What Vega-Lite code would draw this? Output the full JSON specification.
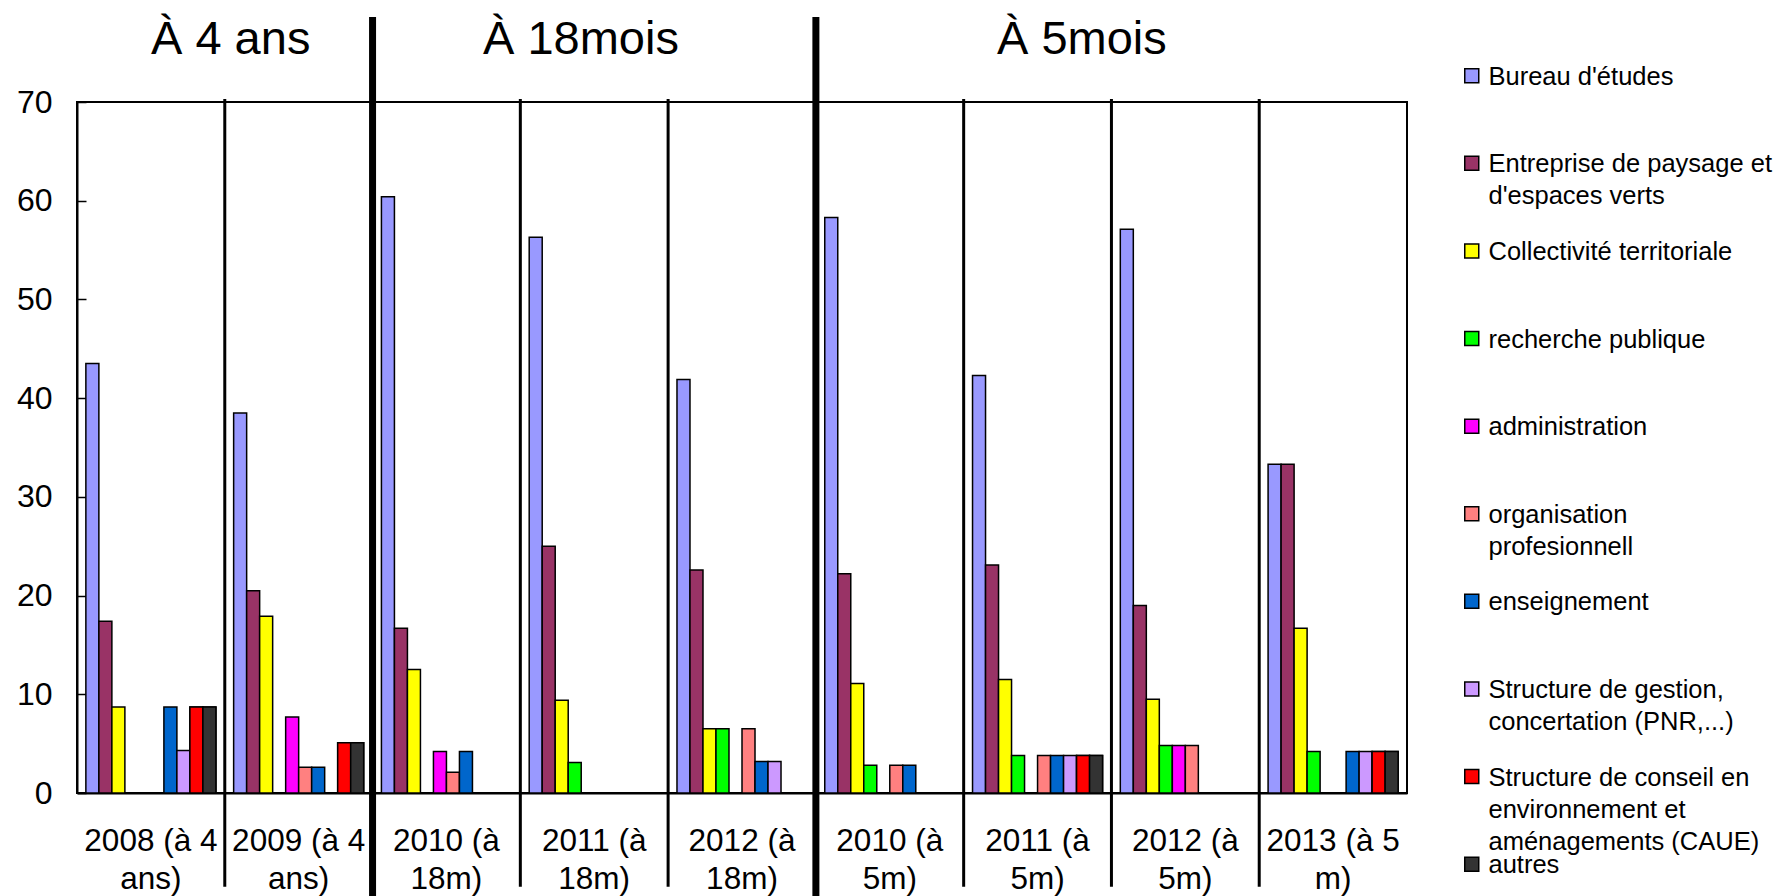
{
  "$schema": "https://vega.github.io/schema/vega-lite/v6.json",
  "width": 1330,
  "height": 691,
  "autosize": {"type": "none"},
  "padding": {"left": 77, "top": 102, "right": 376, "bottom": 103},
  "background": "white",
  "config": {
    "font": "Liberation Sans",
    "view": {"stroke": "black", "strokeWidth": 2},
    "style": {"guide-label": {"lineHeight": 32}},
    "legend": {
      "orient": "none",
      "padding": 0,
      "symbolType": "M-1,0.57H1V2.57H-1Z",
      "symbolSize": 196,
      "symbolStrokeColor": "black",
      "symbolStrokeWidth": 1.5,
      "symbolOpacity": 1,
      "labelFontSize": 25.5,
      "labelColor": "black",
      "labelLimit": 500,
      "labelOffset": 4,
      "gridAlign": "all",
      "rowPadding": 16.6,
      "labelBaseline": "top"
    }
  },
  "datasets": {
    "bars": [
      {"g": "2008 (à 4 ans)", "c": "Bureau d'études", "v": 43.5},
      {"g": "2008 (à 4 ans)", "c": "Entreprise de paysage et d'espaces verts", "v": 17.4},
      {"g": "2008 (à 4 ans)", "c": "Collectivité territoriale", "v": 8.7},
      {"g": "2008 (à 4 ans)", "c": "enseignement", "v": 8.7},
      {"g": "2008 (à 4 ans)", "c": "Structure de gestion, concertation  (PNR,...)", "v": 4.3},
      {"g": "2008 (à 4 ans)", "c": "Structure de conseil en environnement et aménagements (CAUE)", "v": 8.7},
      {"g": "2008 (à 4 ans)", "c": "autres", "v": 8.7},
      {"g": "2009 (à 4 ans)", "c": "Bureau d'études", "v": 38.5},
      {"g": "2009 (à 4 ans)", "c": "Entreprise de paysage et d'espaces verts", "v": 20.5},
      {"g": "2009 (à 4 ans)", "c": "Collectivité territoriale", "v": 17.9},
      {"g": "2009 (à 4 ans)", "c": "administration", "v": 7.7},
      {"g": "2009 (à 4 ans)", "c": "organisation profesionnell", "v": 2.6},
      {"g": "2009 (à 4 ans)", "c": "enseignement", "v": 2.6},
      {"g": "2009 (à 4 ans)", "c": "Structure de conseil en environnement et aménagements (CAUE)", "v": 5.1},
      {"g": "2009 (à 4 ans)", "c": "autres", "v": 5.1},
      {"g": "2010 (à 18m)", "c": "Bureau d'études", "v": 60.4},
      {"g": "2010 (à 18m)", "c": "Entreprise de paysage et d'espaces verts", "v": 16.7},
      {"g": "2010 (à 18m)", "c": "Collectivité territoriale", "v": 12.5},
      {"g": "2010 (à 18m)", "c": "administration", "v": 4.2},
      {"g": "2010 (à 18m)", "c": "organisation profesionnell", "v": 2.1},
      {"g": "2010 (à 18m)", "c": "enseignement", "v": 4.2},
      {"g": "2011 (à 18m)", "c": "Bureau d'études", "v": 56.3},
      {"g": "2011 (à 18m)", "c": "Entreprise de paysage et d'espaces verts", "v": 25.0},
      {"g": "2011 (à 18m)", "c": "Collectivité territoriale", "v": 9.4},
      {"g": "2011 (à 18m)", "c": "recherche publique", "v": 3.1},
      {"g": "2012 (à 18m)", "c": "Bureau d'études", "v": 41.9},
      {"g": "2012 (à 18m)", "c": "Entreprise de paysage et d'espaces verts", "v": 22.6},
      {"g": "2012 (à 18m)", "c": "Collectivité territoriale", "v": 6.5},
      {"g": "2012 (à 18m)", "c": "recherche publique", "v": 6.5},
      {"g": "2012 (à 18m)", "c": "organisation profesionnell", "v": 6.5},
      {"g": "2012 (à 18m)", "c": "enseignement", "v": 3.2},
      {"g": "2012 (à 18m)", "c": "Structure de gestion, concertation  (PNR,...)", "v": 3.2},
      {"g": "2010 (à 5m)", "c": "Bureau d'études", "v": 58.3},
      {"g": "2010 (à 5m)", "c": "Entreprise de paysage et d'espaces verts", "v": 22.2},
      {"g": "2010 (à 5m)", "c": "Collectivité territoriale", "v": 11.1},
      {"g": "2010 (à 5m)", "c": "recherche publique", "v": 2.8},
      {"g": "2010 (à 5m)", "c": "organisation profesionnell", "v": 2.8},
      {"g": "2010 (à 5m)", "c": "enseignement", "v": 2.8},
      {"g": "2011 (à 5m)", "c": "Bureau d'études", "v": 42.3},
      {"g": "2011 (à 5m)", "c": "Entreprise de paysage et d'espaces verts", "v": 23.1},
      {"g": "2011 (à 5m)", "c": "Collectivité territoriale", "v": 11.5},
      {"g": "2011 (à 5m)", "c": "recherche publique", "v": 3.8},
      {"g": "2011 (à 5m)", "c": "organisation profesionnell", "v": 3.8},
      {"g": "2011 (à 5m)", "c": "enseignement", "v": 3.8},
      {"g": "2011 (à 5m)", "c": "Structure de gestion, concertation  (PNR,...)", "v": 3.8},
      {"g": "2011 (à 5m)", "c": "Structure de conseil en environnement et aménagements (CAUE)", "v": 3.8},
      {"g": "2011 (à 5m)", "c": "autres", "v": 3.8},
      {"g": "2012 (à 5m)", "c": "Bureau d'études", "v": 57.1},
      {"g": "2012 (à 5m)", "c": "Entreprise de paysage et d'espaces verts", "v": 19.0},
      {"g": "2012 (à 5m)", "c": "Collectivité territoriale", "v": 9.5},
      {"g": "2012 (à 5m)", "c": "recherche publique", "v": 4.8},
      {"g": "2012 (à 5m)", "c": "administration", "v": 4.8},
      {"g": "2012 (à 5m)", "c": "organisation profesionnell", "v": 4.8},
      {"g": "2013 (à 5 m)", "c": "Bureau d'études", "v": 33.3},
      {"g": "2013 (à 5 m)", "c": "Entreprise de paysage et d'espaces verts", "v": 33.3},
      {"g": "2013 (à 5 m)", "c": "Collectivité territoriale", "v": 16.7},
      {"g": "2013 (à 5 m)", "c": "recherche publique", "v": 4.2},
      {"g": "2013 (à 5 m)", "c": "enseignement", "v": 4.2},
      {"g": "2013 (à 5 m)", "c": "Structure de gestion, concertation  (PNR,...)", "v": 4.2},
      {"g": "2013 (à 5 m)", "c": "Structure de conseil en environnement et aménagements (CAUE)", "v": 4.2},
      {"g": "2013 (à 5 m)", "c": "autres", "v": 4.2}
    ]
  },
  "resolve": {"scale": {"x": "independent", "color": "independent"}, "legend": {"color": "independent"}},
  "layer": [
    {
      "data": {"name": "bars"},
      "mark": {"type": "bar", "stroke": "black", "strokeWidth": 1.5},
      "encoding": {
        "x": {
          "field": "g",
          "type": "nominal",
          "sort": null,
          "scale": {"domain": ["2008 (à 4 ans)", "2009 (à 4 ans)", "2010 (à 18m)", "2011 (à 18m)", "2012 (à 18m)", "2010 (à 5m)", "2011 (à 5m)", "2012 (à 5m)", "2013 (à 5 m)"], "paddingInner": 0.12, "paddingOuter": 0.06},
          "axis": {
            "title": null,
            "labelAngle": 0,
            "ticks": false,
            "domainColor": "black",
            "domainWidth": 2,
            "labelColor": "black",
            "labelFontSize": 31.5,
            "labelLineHeight": 38,
            "labelPadding": 32,
            "labelLimit": 400,
            "labelExpr": "indexof(datum.label,'ans)')>0 ? [replace(datum.label,' ans)',''),'ans)'] : indexof(datum.label,'18m')>0 ? [replace(datum.label,' 18m)',''),'18m)'] : indexof(datum.label,'(à 5m)')>0 ? [replace(datum.label,' 5m)',''),'5m)'] : [replace(datum.label,' m)',''),'m)']"
          }
        },
        "xOffset": {
          "field": "c",
          "type": "nominal",
          "scale": {
            "domain": ["Bureau d'études", "Entreprise de paysage et d'espaces verts", "Collectivité territoriale", "recherche publique", "administration", "organisation profesionnell", "enseignement", "Structure de gestion, concertation  (PNR,...)", "Structure de conseil en environnement et aménagements (CAUE)", "autres"],
            "paddingInner": 0,
            "paddingOuter": 0
          }
        },
        "y": {
          "field": "v",
          "type": "quantitative",
          "scale": {"domain": [0, 70], "nice": false},
          "axis": {
            "title": null,
            "values": [0, 10, 20, 30, 40, 50, 60, 70],
            "grid": false,
            "domainColor": "black",
            "domainWidth": 2,
            "tickColor": "black",
            "tickWidth": 1.5,
            "tickSize": -9,
            "labelColor": "black",
            "labelFontSize": 32,
            "labelPadding": 34
          }
        },
        "color": {
          "field": "c",
          "type": "nominal",
          "scale": {
            "domain": ["Bureau d'études", "Entreprise de paysage et d'espaces verts", "Collectivité territoriale", "recherche publique", "administration", "organisation profesionnell", "enseignement", "Structure de gestion, concertation  (PNR,...)", "Structure de conseil en environnement et aménagements (CAUE)", "autres"],
            "range": ["#9999FF", "#993366", "#FFFF00", "#00FF00", "#FF00FF", "#FF8080", "#0066CC", "#CC99FF", "#FF0000", "#333333"]
          },
          "legend": {
            "title": null,
            "legendX": 1382,
            "legendY": -50,
            "values": ["Bureau d'études", "Entreprise de paysage et d'espaces verts", "Collectivité territoriale", "recherche publique", "administration", "organisation profesionnell", "enseignement", "Structure de gestion, concertation  (PNR,...)"],
            "labelExpr": "indexof(datum.label,'Entreprise')==0 ? ['Entreprise de paysage et', \"d'espaces verts\"] : indexof(datum.label,'organisation')==0 ? ['organisation','profesionnell'] : indexof(datum.label,'Structure de gestion')==0 ? ['Structure de gestion,','concertation  (PNR,...)'] : datum.label"
          }
        }
      }
    },
    {
      "data": {"name": "bars"},
      "transform": [{"filter": "datum.c == 'Structure de conseil en environnement et aménagements (CAUE)'"}],
      "mark": {"type": "bar", "stroke": "black", "strokeWidth": 1.5},
      "encoding": {
        "x": {
          "field": "g",
          "type": "nominal",
          "sort": null,
          "scale": {"domain": ["2008 (à 4 ans)", "2009 (à 4 ans)", "2010 (à 18m)", "2011 (à 18m)", "2012 (à 18m)", "2010 (à 5m)", "2011 (à 5m)", "2012 (à 5m)", "2013 (à 5 m)"], "paddingInner": 0.12, "paddingOuter": 0.06},
          "axis": null
        },
        "xOffset": {
          "field": "c",
          "type": "nominal",
          "scale": {
            "domain": ["Bureau d'études", "Entreprise de paysage et d'espaces verts", "Collectivité territoriale", "recherche publique", "administration", "organisation profesionnell", "enseignement", "Structure de gestion, concertation  (PNR,...)", "Structure de conseil en environnement et aménagements (CAUE)", "autres"],
            "paddingInner": 0,
            "paddingOuter": 0
          }
        },
        "y": {"field": "v", "type": "quantitative"},
        "color": {
          "field": "c",
          "type": "nominal",
          "scale": {
            "domain": ["Structure de conseil en environnement et aménagements (CAUE)"],
            "range": ["#FF0000"]
          },
          "legend": {
            "title": null,
            "legendX": 1382,
            "legendY": 650.8,
            "labelExpr": "['Structure de conseil en','environnement et','aménagements (CAUE)']"
          }
        }
      }
    },
    {
      "data": {"name": "bars"},
      "transform": [{"filter": "datum.c == 'autres'"}],
      "mark": {"type": "bar", "stroke": "black", "strokeWidth": 1.5},
      "encoding": {
        "x": {
          "field": "g",
          "type": "nominal",
          "sort": null,
          "scale": {"domain": ["2008 (à 4 ans)", "2009 (à 4 ans)", "2010 (à 18m)", "2011 (à 18m)", "2012 (à 18m)", "2010 (à 5m)", "2011 (à 5m)", "2012 (à 5m)", "2013 (à 5 m)"], "paddingInner": 0.12, "paddingOuter": 0.06},
          "axis": null
        },
        "xOffset": {
          "field": "c",
          "type": "nominal",
          "scale": {
            "domain": ["Bureau d'études", "Entreprise de paysage et d'espaces verts", "Collectivité territoriale", "recherche publique", "administration", "organisation profesionnell", "enseignement", "Structure de gestion, concertation  (PNR,...)", "Structure de conseil en environnement et aménagements (CAUE)", "autres"],
            "paddingInner": 0,
            "paddingOuter": 0
          }
        },
        "y": {"field": "v", "type": "quantitative"},
        "color": {
          "field": "c",
          "type": "nominal",
          "scale": {"domain": ["autres"], "range": ["#333333"]},
          "legend": {"title": null, "legendX": 1382, "legendY": 738.4}
        }
      }
    },
    {
      "data": {"values": [{"p": 1}, {"p": 3}, {"p": 4}, {"p": 6}, {"p": 7}, {"p": 8}]},
      "mark": {"type": "rule", "color": "black", "strokeWidth": 3},
      "encoding": {
        "x": {"field": "p", "type": "quantitative", "scale": {"domain": [0, 9], "nice": false, "zero": false}, "axis": null},
        "y": {"datum": 70.3},
        "y2": {"datum": -9.5}
      }
    },
    {
      "data": {"values": [{"p": 2}, {"p": 5}]},
      "mark": {"type": "rule", "color": "black", "strokeWidth": 7},
      "encoding": {
        "x": {"field": "p", "type": "quantitative", "scale": {"domain": [0, 9], "nice": false, "zero": false}, "axis": null},
        "y": {"datum": 78.6},
        "y2": {"datum": -10.5}
      }
    },
    {
      "data": {"values": [{"t": "À 4 ans", "p": 1.04}, {"t": "À 18mois", "p": 3.41}, {"t": "À 5mois", "p": 6.8}]},
      "mark": {"type": "text", "fontSize": 47, "color": "black", "baseline": "middle", "align": "center"},
      "encoding": {
        "x": {"field": "p", "type": "quantitative", "scale": {"domain": [0, 9], "nice": false, "zero": false}, "axis": null},
        "y": {"datum": 76.3},
        "text": {"field": "t"}
      }
    }
  ]
}
